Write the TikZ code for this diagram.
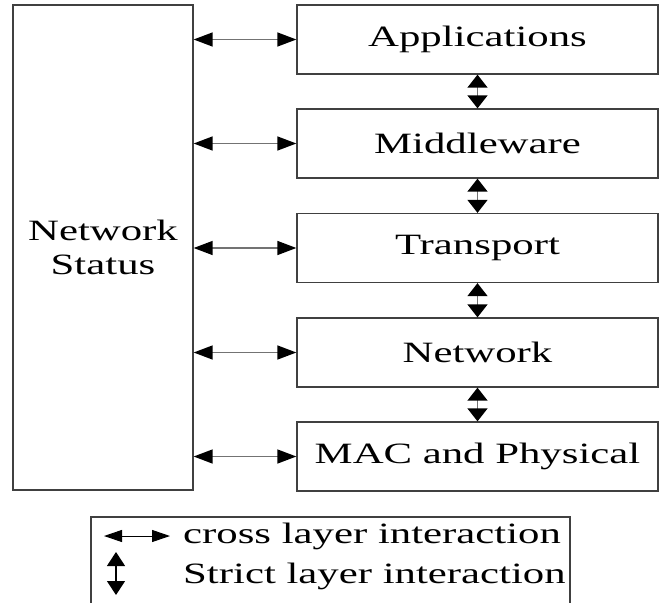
\documentclass[tikz,border=0pt]{standalone}
\usepackage{fontspec}
\setmainfont{Liberation Serif}[FakeStretch = 1.45]
\usetikzlibrary{arrows.meta}

\tikzset{
    box/.style = {draw = black!75, line width = 1.3pt, inner sep = 0pt, align = center},
    layer/.style = {box, minimum width = 361pt, minimum height = 69pt},
    cross/.style = {black!55, line width = 1.4pt,
        {Triangle[length = 19pt, width = 14pt, color = black]}-{Triangle[length = 19pt, width = 14pt, color = black]}},
    strict/.style = {black!55, line width = 1.4pt,
        {Triangle[length = 13pt, width = 20pt, color = black]}-{Triangle[length = 13pt, width = 20pt, color = black]}}
}

\begin{document}
\begin{tikzpicture}[x = 1pt, y = -1pt, font = \fontsize{29.5pt}{34pt}\selectfont]
    \useasboundingbox (0, 0) rectangle (663, 602);
    \clip (0, 0) rectangle (663, 602);

    % status column and the layer stack
    \node [box, minimum width = 180pt, minimum height = 485pt] (status) at (103, 247.5) {Network\\Status};
    \node [layer] (apps) at (477.5, 39.5) {Applications};
    \node [layer] (mid) at (477.5, 143.5) {Middleware};
    \node [layer] (trans) at (477.5, 248) {Transport};
    \node [layer] (net) at (477.5, 352.5) {Network};
    \node [layer] (mac) at (477.5, 456.5) {MAC and Physical};

    % cross layer
    \foreach \n in {apps, mid, trans, net, mac}
        \draw [cross] (status.east |- \n.west) -- (\n.west);

    % strict layer
    \foreach \a/\b in {apps/mid, mid/trans, trans/net, net/mac}
        \draw [strict] (\a.south) -- (\b.north);

    % legend
    \draw [draw = black!75, line width = 1.3pt] (91, 620) |- (570, 517) -- (570, 620);
    \coordinate (ca) at (104, 536);
    \coordinate (cb) at (170, 536);
    \coordinate (sa) at (116, 552);
    \coordinate (sb) at (116, 595);
    \draw [black, line width = 1pt,
        {Triangle[length = 18pt, width = 12pt]}-{Triangle[length = 18pt, width = 12pt]}] (ca) -- (cb);
    \draw [black, line width = 1.2pt,
        {Triangle[length = 14pt, width = 18pt]}-{Triangle[length = 14pt, width = 18pt]}] (sa) -- (sb);
    \node [anchor = base west, inner sep = 0pt] (crosstext) at (183, 543) {cross layer interaction};
    \node [anchor = base west, inner sep = 0pt] (stricttext) at (183, 583) {Strict layer interaction};
\end{tikzpicture}
\end{document}
